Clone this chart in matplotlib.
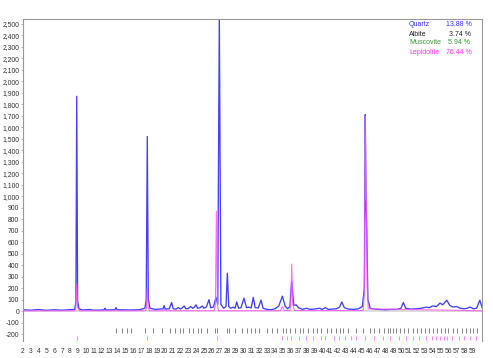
import matplotlib
matplotlib.use("Agg")
import matplotlib.pyplot as plt
from matplotlib.ticker import FuncFormatter

# ---------------- data ----------------
obs_x = [2.0, 3.0, 4.0, 5.0, 6.0, 7.0, 8.0, 8.6, 8.75, 8.86, 8.97, 9.15, 9.6, 10.5, 11.0, 12.3, 12.45, 12.6,
         13.7, 13.85, 14.0, 15.5, 16.8, 17.5, 17.68, 17.81, 17.94, 18.15, 18.8, 19.5,
         19.8, 19.95, 20.1, 20.6, 20.9, 21.1, 21.5, 21.75, 22.0, 22.2, 22.5, 22.7, 23.0,
         23.3, 23.6, 23.8, 24.0, 24.2, 24.5, 24.8, 25.0, 25.3, 25.64, 25.85, 26.2, 26.53,
         26.75, 26.95, 27.15, 27.5, 27.8, 27.97, 28.15, 28.4, 28.7, 28.95, 29.16, 29.4,
         29.7, 30.08, 30.4, 30.7, 31.0, 31.26, 31.5, 31.9, 32.24, 32.5, 33.0, 33.5, 34.0,
         34.5, 34.95, 35.3, 35.6, 35.9, 36.14, 36.4, 36.7, 37.0, 37.5, 38.0, 38.5, 39.0,
         39.7, 40.0, 40.4, 40.8, 41.3, 41.8, 42.2, 42.5, 42.8, 43.3, 44.0, 44.6, 45.1,
         45.35, 45.47, 45.57, 45.66, 45.8, 46.1, 46.6, 47.2, 48.0, 48.8, 49.5, 50.0, 50.3,
         50.6, 51.2, 52.0, 52.6, 53.2, 53.6, 54.0, 54.5, 54.96, 55.3, 55.55, 55.8, 56.2,
         56.6, 57.07, 57.5, 58.0, 58.4, 58.77, 59.2, 59.6, 60.0, 60.3]
obs_y = [12, 8, 14, 7, 12, 8, 13, 15, 80, 1870, 90, 20, 10, 14, 8, 10, 25, 10,
         12, 30, 12, 10, 12, 25, 100, 1520, 110, 25, 15, 18,
         20, 48, 18, 20, 75, 20, 18, 32, 18, 25, 45, 20, 22,
         40, 25, 35, 55, 25, 30, 45, 25, 35, 100, 30, 35, 120,
         60, 2560, 60, 25, 40, 330, 40, 25, 35, 25, 80, 25,
         30, 113, 30, 35, 28, 120, 30, 28, 96, 25, 15, 12, 20,
         45, 130, 45, 20, 40, 260, 50, 55, 30, 15, 25, 15, 18,
         25, 15, 30, 15, 18, 20, 35, 80, 30, 18, 15, 20, 40,
         200, 1710, 900, 700, 100, 25, 18, 15, 12, 15, 15, 25, 75,
         25, 18, 20, 25, 35, 30, 45, 40, 70, 55, 75, 95, 50,
         35, 40, 25, 20, 25, 35, 20, 25, 95, 30]

lep_x = [2.0, 8.6, 8.75, 8.86, 8.97, 9.2, 17.6, 17.7, 17.81, 17.92, 18.1, 19.8, 19.95,
         20.1, 26.3, 26.45, 26.58, 26.7, 26.85, 34.7, 34.95, 35.2, 35.9, 36.02, 36.14,
         36.26, 36.5, 45.2, 45.35, 45.47, 45.56, 45.63, 45.72, 45.85, 60.3]
lep_y = [3, 3, 30, 230, 30, 3, 3, 30, 200, 30, 3, 3, 15,
         3, 3, 60, 870, 60, 3, 3, 40, 5, 5, 80, 410,
         60, 5, 5, 150, 1700, 980, 940, 200, 20, 3]

bg_x = [2.0, 20.0, 40.0, 60.3]
bg_y = [0, 2, 2, 0]

albite_ticks = [13.9, 14.6, 15.2, 15.8, 17.5, 18.5, 19.7, 20.7, 21.3, 22.0, 22.4, 23.1,
                23.6, 24.2, 24.6, 25.4, 26.4, 26.6, 27.9, 28.2, 28.9, 29.8, 30.4, 31.0,
                31.5, 32.0, 33.0, 33.6, 34.3, 35.0, 35.4, 35.9, 36.6, 37.2, 37.6, 38.2,
                38.8, 39.3, 39.9, 40.6, 41.1, 41.8, 42.3, 42.6, 43.3, 44.3, 45.2, 46.1,
                46.6, 47.2, 47.8, 48.3, 48.6, 49.0, 49.4, 49.9, 50.4, 50.9, 51.5, 52.0,
                52.5, 53.0, 53.5, 54.0, 54.6, 55.1, 55.6, 56.0, 56.6, 57.1, 57.7, 58.2,
                58.7, 59.2, 59.7]
lepidolite_ticks = [8.85, 17.8, 26.6, 34.9, 35.5, 36.1, 37.1, 37.9, 38.8, 39.8, 40.4,
                    41.5, 42.1, 42.9, 43.6, 44.3, 45.45, 46.6, 47.7, 48.6, 49.7, 50.7,
                    51.5, 52.3, 53.2, 53.9, 54.4, 54.9, 55.4, 55.9, 56.5, 57.3, 58.0,
                    58.8, 59.5]

phases = ["Quartz", "Albite", "Muscovite", "Lepidolite"]
percents = ["13.88 %", "3.74 %", "5.94 %", "76.44 %"]
phase_colors = ["#3333ff", "#222222", "#33a033", "#ff33ff"]

x_ticks = list(range(2, 60))
y_ticks = list(range(-200, 2501, 100))

# ---------------- figure ----------------
plt.rcParams['font.family'] = ['Liberation Sans', 'DejaVu Sans']
fig = plt.figure(figsize=(4.93, 3.58), dpi=100)
ax = fig.add_axes([0.046, 0.0475, 0.932, 0.8995])

ax.plot(bg_x, bg_y, color="#b0b0b0", lw=0.6, zorder=1)
ax.plot(obs_x, obs_y, color="#4040ff", lw=0.95, zorder=2)
ax.plot(lep_x, lep_y, color="#ff55ff", lw=0.8, alpha=0.85, zorder=3)

ax.vlines(albite_ticks, -190, -150, color="#555555", lw=0.5)
ax.vlines(lepidolite_ticks, -250, -215, color="#ff55ff", lw=0.5)

ax.set_xlim(2, 60.3)
ax.set_ylim(-260, 2543)
ax.set_xticks(x_ticks)
ax.set_xticklabels([str(v) for v in x_ticks])
ax.set_yticks(y_ticks)
ax.yaxis.set_major_formatter(FuncFormatter(lambda v, p: f"{int(v):,}"))
ax.tick_params(axis="x", length=0, labelsize=4.8, pad=5, colors="#333333")
ax.tick_params(axis="y", length=1.5, width=0.5, labelsize=4.9, pad=1,
               colors="#333333", color="#999999")

for s in ["top", "right", "left"]:
    ax.spines[s].set_color("#999999")
    ax.spines[s].set_linewidth(0.8)
ax.spines["bottom"].set_visible(False)

# legend text block (top right)
W, H = 493.0, 358.0
rows_y = [24, 34, 43, 52]
val_right = [472, 471, 470, 472]
for name, pct, col, yy, xr in zip(phases, percents, phase_colors, rows_y, val_right):
    fig.text(409 / W, 1 - yy / H, name, color=col, fontsize=5.0, ha="left", va="center")
    fig.text(xr / W, 1 - yy / H, pct, color=col, fontsize=5.0, ha="right", va="center")

fig.savefig("out.png", dpi=100)
